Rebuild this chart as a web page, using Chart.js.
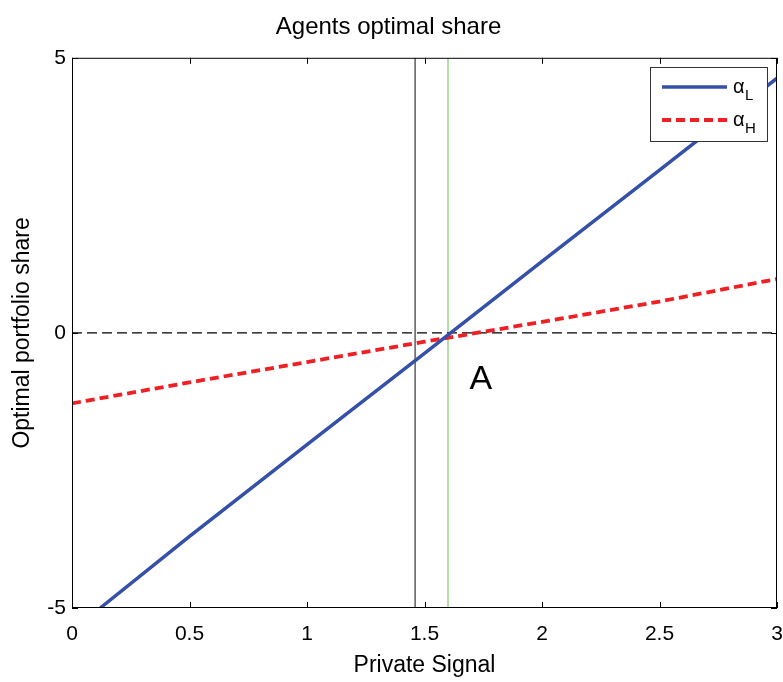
<!DOCTYPE html>
<html>
<head>
<meta charset="utf-8">
<script src="https://cdn.jsdelivr.net/npm/chart.js@4.4.1/dist/chart.umd.min.js"></script>
<style>
  html, body { margin: 0; padding: 0; background: #fff; }
  #wrap { width: 783px; height: 682px; }
</style>
</head>
<body>
<div id="wrap"><canvas id="chart-line"></canvas></div>
<script>
// values
var signalL = [0.12, 0.5, 1, 1.5, 2, 2.5, 3];
var alphaL = [-5, -3.7, -2.03, -0.37, 1.3, 2.96, 4.63];
var signalH = [0, 0.5, 1, 1.5, 2, 2.5, 3];
var alphaH = [-1.28, -0.9, -0.53, -0.16, 0.2, 0.57, 0.98];
var zeroX = [0, 3];
var zeroY = [0, 0];
var blackLineX = 1.46;
var greenLineX = 1.6;
var vertY = [-5, 5];
var xTicks = [0, 0.5, 1, 1.5, 2, 2.5, 3];
var yTicks = [-5, 0, 5];
var markLabel = "A";
var markX = 1.74;
var markY = -0.85;

var pts = function (xs, ys) {
  return xs.map(function (x, i) { return { x: x, y: ys[i] }; });
};

var fontFam = "'Liberation Sans', Arial, sans-serif";

// box, inner ticks, "A" and the legend, matlab style
var frame = {
  id: "frame",
  afterDatasetsDraw: function (chart) {
    var c = chart.ctx;
    var a = chart.chartArea;
    var sx = chart.scales.x;
    var sy = chart.scales.y;
    c.save();
    c.strokeStyle = "#000";
    c.lineWidth = 1;
    c.strokeRect(a.left + 0.5, a.top + 0.5, a.right - a.left - 1, a.bottom - a.top - 1);
    c.beginPath();
    xTicks.forEach(function (v) {
      var px = Math.round(sx.getPixelForValue(v)) + 0.5;
      c.moveTo(px, a.bottom); c.lineTo(px, a.bottom - 6);
      c.moveTo(px, a.top); c.lineTo(px, a.top + 6);
    });
    yTicks.forEach(function (v) {
      var py = Math.round(sy.getPixelForValue(v)) + 0.5;
      c.moveTo(a.left, py); c.lineTo(a.left + 6, py);
      c.moveTo(a.right, py); c.lineTo(a.right - 6, py);
    });
    c.stroke();

    c.fillStyle = "#000";
    c.font = "34px " + fontFam;
    c.textAlign = "center";
    c.textBaseline = "middle";
    c.fillText(markLabel, sx.getPixelForValue(markX), sy.getPixelForValue(markY));

    // legend
    var lx = 650, ly = 67, lw = 117, lh = 74;
    c.fillStyle = "#fff";
    c.fillRect(lx, ly, lw, lh);
    c.strokeStyle = "#333";
    c.strokeRect(lx + 0.5, ly + 0.5, lw, lh);
    var items = chart.data.datasets.filter(function (d) { return d.legendSub; });
    items.forEach(function (d, i) {
      var y = ly + 20 + i * 33;
      c.beginPath();
      c.strokeStyle = d.borderColor;
      c.lineWidth = d.borderWidth;
      c.setLineDash(d.borderDash || []);
      c.moveTo(lx + 12, y); c.lineTo(lx + 77, y);
      c.stroke();
      c.setLineDash([]);
      c.fillStyle = "#000";
      c.textAlign = "left";
      c.textBaseline = "alphabetic";
      c.font = "20px " + fontFam;
      c.fillText("\u03b1", lx + 83, y + 6);
      c.font = "15px " + fontFam;
      c.fillText(d.legendSub, lx + 95, y + 13);
    });
    c.restore();
  }
};

new Chart(document.getElementById("chart-line"), {
  type: "scatter",
  data: {
    datasets: [
      {
        label: "zero",
        data: pts(zeroX, zeroY),
        showLine: true,
        borderColor: "#000",
        borderWidth: 1.3,
        borderDash: [10, 5],
        pointRadius: 0
      },
      {
        label: "black",
        data: pts([blackLineX, blackLineX], vertY),
        showLine: true,
        borderColor: "#444",
        borderWidth: 1.3,
        pointRadius: 0
      },
      {
        label: "green",
        data: pts([greenLineX, greenLineX], vertY),
        showLine: true,
        borderColor: "#98d488",
        borderWidth: 1.5,
        pointRadius: 0
      },
      {
        label: "alpha_L",
        legendSub: "L",
        data: pts(signalL, alphaL),
        showLine: true,
        borderColor: "#3550a8",
        borderWidth: 3.5,
        pointRadius: 0,
        order: -2
      },
      {
        label: "alpha_H",
        legendSub: "H",
        data: pts(signalH, alphaH),
        showLine: true,
        borderColor: "#ee2024",
        borderWidth: 3.8,
        borderDash: [9, 5],
        pointRadius: 0,
        order: -1
      }
    ]
  },
  options: {
    responsive: true,
    maintainAspectRatio: false,
    animation: false,
    layout: { padding: { left: 0, right: 6, top: 0, bottom: 0 } },
    plugins: {
      legend: { display: false },
      tooltip: { enabled: false },
      title: {
        display: true,
        text: "Agents optimal share",
        color: "#000",
        padding: { top: 13, bottom: 16 },
        font: { size: 24, family: fontFam, weight: "normal", lineHeight: 1.2 }
      }
    },
    scales: {
      x: {
        type: "linear",
        min: 0,
        max: 3,
        afterFit: function (s) { s.height = 74; s.paddingLeft = 0; s.paddingRight = 0; },
        afterBuildTicks: function (s) { s.ticks = xTicks.map(function (v) { return { value: v }; }); },
        grid: { display: false, drawTicks: false },
        border: { display: false },
        ticks: {
          color: "#000",
          padding: 14,
          maxRotation: 0,
          font: { size: 21, family: fontFam },
          callback: function (v) { return String(v); }
        },
        title: {
          display: true,
          text: "Private Signal",
          color: "#000",
          padding: { top: 0, bottom: 3 },
          font: { size: 23, family: fontFam, lineHeight: 1.2 }
        }
      },
      y: {
        type: "linear",
        min: -5,
        max: 5,
        afterFit: function (s) { s.width = 72; s.paddingTop = 0; s.paddingBottom = 0; },
        afterBuildTicks: function (s) { s.ticks = yTicks.map(function (v) { return { value: v }; }); },
        grid: { display: false, drawTicks: false },
        border: { display: false },
        ticks: {
          color: "#000",
          padding: 6,
          font: { size: 21, family: fontFam }
        },
        title: {
          display: true,
          text: "Optimal portfolio share",
          color: "#000",
          padding: { top: 9, bottom: 0 },
          font: { size: 23, family: fontFam, lineHeight: 1.2 }
        }
      }
    }
  },
  plugins: [frame]
});
</script>
</body>
</html>
